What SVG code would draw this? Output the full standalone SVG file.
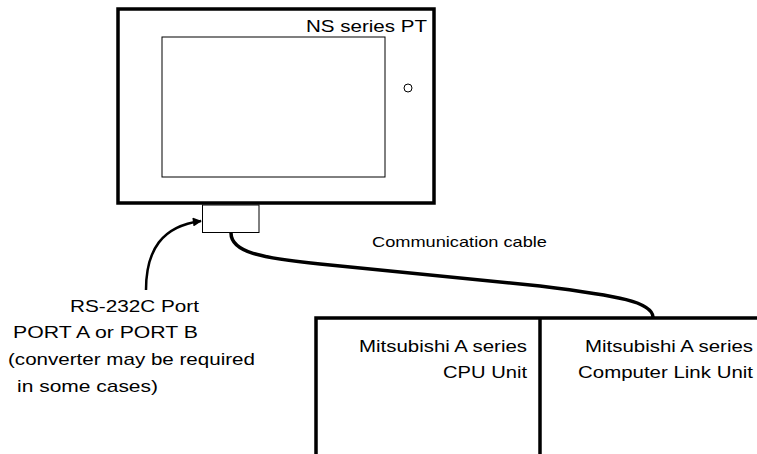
<svg xmlns="http://www.w3.org/2000/svg" width="757" height="454" viewBox="0 0 757 454">
<style>
text{font-family:"Liberation Sans",Arial,sans-serif;fill:#000}
.t{font-size:17px}
.s{font-size:15px}
.r{text-anchor:end}
.thick{fill:none;stroke:#000;stroke-width:3.5}
.thin{fill:none;stroke:#000;stroke-width:1}
</style>
<defs>
<marker id="ah" viewBox="0 0 10 10" refX="9" refY="5" markerWidth="10" markerHeight="9" orient="auto" markerUnits="userSpaceOnUse">
<path d="M0,0 L10,5 L0,10 z" fill="#000"/>
</marker>
</defs>
<rect width="757" height="454" fill="#fff"/>
<g id="pt">
<rect x="118" y="9" width="316" height="194" class="thick" stroke-width="4"/>
<rect x="162" y="37" width="223" height="140" class="thin"/>
<circle cx="408" cy="88" r="4" class="thin"/>
<text x="427" y="32" class="t r" textLength="121" lengthAdjust="spacingAndGlyphs">NS series PT</text>
</g>
<g id="port">
<rect x="202.5" y="205" width="56.5" height="27.5" class="thin"/>
</g>
<g id="port-label">
<text x="199" y="312" class="t r" textLength="129" lengthAdjust="spacingAndGlyphs">RS-232C Port</text>
<text x="198" y="338" class="t r" textLength="185" lengthAdjust="spacingAndGlyphs">PORT A or PORT B</text>
<text x="8" y="365" class="t" textLength="247" lengthAdjust="spacingAndGlyphs">(converter may be required</text>
<text x="17" y="392" class="t" textLength="141" lengthAdjust="spacingAndGlyphs">in some cases)</text>
</g>
<g id="plc">
<path d="M316,454 V318 H757" class="thick" stroke-width="3"/>
<path d="M540,318 V454" class="thick" stroke-width="3"/>
<text x="527" y="352" class="t r" textLength="168" lengthAdjust="spacingAndGlyphs">Mitsubishi A series</text>
<text x="527" y="378" class="t r" textLength="84" lengthAdjust="spacingAndGlyphs">CPU Unit</text>
<text x="753" y="352" class="t r" textLength="168" lengthAdjust="spacingAndGlyphs">Mitsubishi A series</text>
<text x="753" y="378" class="t r" textLength="175" lengthAdjust="spacingAndGlyphs">Computer Link Unit</text>
</g>
<g id="connectors">
<path d="M146,290 C146,250 162,226 201,221" fill="none" stroke="#000" stroke-width="2.5" marker-end="url(#ah)"/>
<path d="M231,233 C231,252 260,258 320,264 L540,286 C620,296 652,302 653,317" class="thick" stroke-width="4"/>
<text x="372" y="247" class="s" textLength="175" lengthAdjust="spacingAndGlyphs">Communication cable</text>
</g>
</svg>
